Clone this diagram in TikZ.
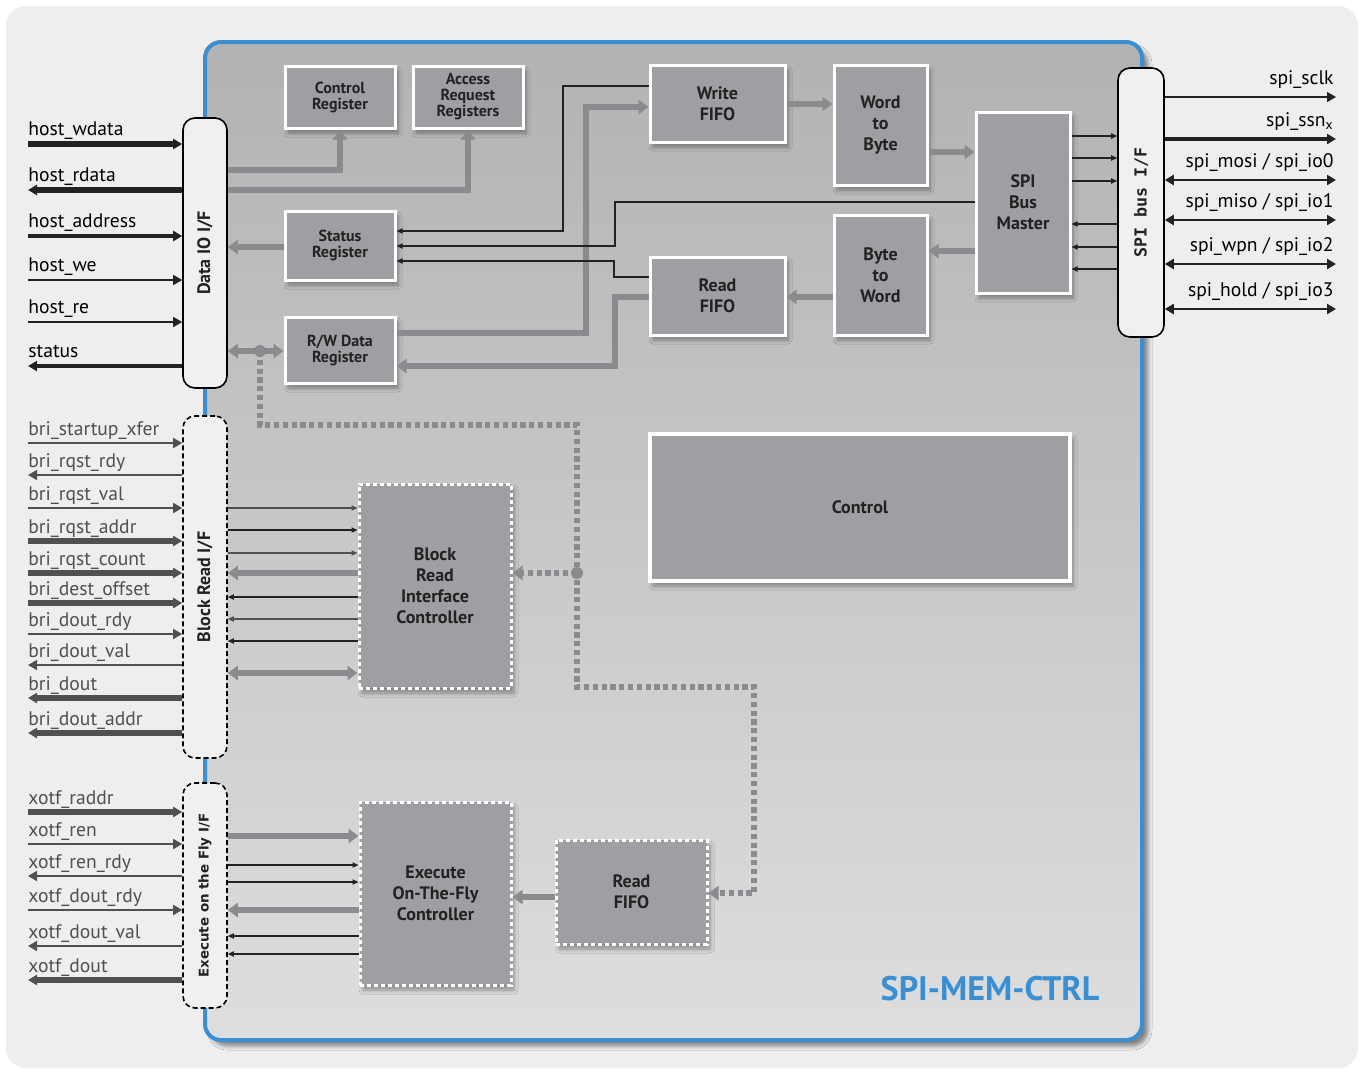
\documentclass[tikz,border=0pt]{standalone}
\usepackage{fontspec}
\setmainfont{PT Sans}
\newfontfamily\ifmono{DejaVu Sans Mono}
\newfontfamily\ifwide{DejaVu Sans}
\usetikzlibrary{positioning,arrows.meta,shadows.blur}
\definecolor{spiblue}{HTML}{3A8FD3}
\definecolor{blockgray}{HTML}{9E9FA3}
\definecolor{busgray}{HTML}{8A8B8E}
\definecolor{siggray}{HTML}{505050}
\definecolor{pagegray}{HTML}{EEEEEE}
\definecolor{iffill}{HTML}{F0F0F0}
\definecolor{txtdark}{HTML}{222222}
\begin{document}
\begin{tikzpicture}[x=0.5pt,y=-0.5pt]
\tikzstyle{block} = [draw=white, line width=1.5pt, fill=blockgray, inner sep=0pt, align=center, text=txtdark, font=\bfseries\fontsize{9}{10.5}\selectfont, blur shadow={shadow xshift=1.5pt, shadow yshift=-2.5pt, shadow blur steps=6, shadow opacity=35}]
\tikzstyle{regblock} = [block, font=\bfseries\fontsize{8}{8}\selectfont]
\tikzstyle{dotblock} = [block, dash pattern=on 2pt off 1.5pt]
\tikzstyle{ioif} = [draw=black, line width=0.8pt, fill=iffill, rounded corners=6pt, inner sep=0pt, minimum width=22pt]
\tikzstyle{dashif} = [ioif, dash pattern=on 2.5pt off 1.5pt]
\tikzstyle{iftext} = [rotate=90, inner sep=0pt, text=txtdark, font=\bfseries\fontsize{9}{9}\selectfont]
\tikzstyle{siglabel} = [inner sep=0pt, text depth=0pt, text=black, font=\fontsize{9.8}{10}\selectfont]
\tikzstyle{graylabel} = [siglabel, text=siggray]
\tikzstyle{sig} = [draw=txtdark, >={Triangle[length=4.5pt,width=5pt]}]
\tikzstyle{graysig} = [sig, draw=siggray]
\tikzstyle{graybus} = [draw=busgray, line width=3pt, >={Triangle[length=5pt,width=7pt]}]
\tikzstyle{thinarrow} = [draw=txtdark, line width=0.6pt, ->, >={Triangle[length=3pt,width=2.6pt]}]
\tikzstyle{dotbus} = [draw=busgray, line width=2.6pt, dash pattern=on 2.6pt off 1.8pt, >={Triangle[length=5pt,width=7pt]}]

% page and core
\useasboundingbox (0,0) rectangle (1364,1072);
\fill[white] (0,0) rectangle (1364,1072);
\fill[pagegray, rounded corners=10pt] (6,6) rectangle (1358,1068);
\node (core)[draw=spiblue, line width=2pt, rounded corners=8pt, minimum width=468.5pt, minimum height=499pt, top color=black!30!white, bottom color=black!13!white, blur shadow={shadow xshift=3pt, shadow yshift=-3pt, shadow opacity=45}] at (673.5,541) {};
\node (title)[text=spiblue, font=\bfseries\fontsize{17}{17}\selectfont] at (990,989) {SPI-MEM-CTRL};

% interfaces
\node (dataio)[ioif, minimum height=135pt] at (205,253) {};
\node (dataiotxt)[iftext] at (dataio) {Data IO I/F};
\node (brif)[dashif, minimum height=171pt] at (205,587) {};
\node (briftxt)[iftext] at (brif) {Block Read I/F};
\node (xotfif)[dashif, minimum height=112.5pt] at (205,895.5) {};
\node (xotfiftxt)[iftext, font=\ifwide\bfseries\fontsize{6.7}{6.7}\selectfont] at (xotfif) {Execute on the Fly I/F};
\node (spiif)[ioif, minimum width=23pt, minimum height=134.5pt] at (1141,202.5) {};
\node (spiiftxt)[iftext, font=\ifmono\bfseries\fontsize{8.3}{8.3}\selectfont] at (spiif) {SPI bus I/F};

% blocks
\node (ctrlreg)[regblock, minimum width=55pt, minimum height=31pt] at (340,97) {Control\\Register};
\node (accreg)[regblock, minimum width=55pt, minimum height=31pt, right of=ctrlreg, node distance=64pt] {Access\\Request\\Registers};
\node (statreg)[regblock, minimum width=55pt, minimum height=34.5pt] at (340,245.5) {Status\\Register};
\node (rwreg)[regblock, minimum width=55pt, minimum height=33pt] at (340,350) {R/W Data\\Register};
\node (wfifo)[block, minimum width=67.5pt, minimum height=38.5pt] at (717.5,103.5) {Write\\FIFO};
\node (rfifo)[block, minimum width=67.5pt, minimum height=39pt] at (717.5,296) {Read\\FIFO};
\node (w2b)[block, minimum width=46.5pt, minimum height=60pt] at (880.5,125) {Word\\to\\Byte};
\node (b2w)[block, minimum width=46.5pt, minimum height=60pt, below of=w2b, node distance=75pt] {Byte\\to\\Word};
\node (sbm)[block, minimum width=47pt, minimum height=90.5pt] at (1023,202.5) {SPI\\Bus\\Master};
\node (control)[block, line width=2pt, minimum width=210pt, minimum height=73.5pt] at (860,507.5) {Control};
\node (bric)[dotblock, minimum width=76pt, minimum height=102pt] at (435,586) {Block\\Read\\Interface\\Controller};
\node (eotf)[dotblock, minimum width=75.5pt, minimum height=91.5pt] at (435.5,893.5) {Execute\\On-The-Fly\\Controller};
\node (xfifo)[dotblock, minimum width=75.5pt, minimum height=52pt] at (631.5,892) {Read\\FIFO};

% data IO internals
\draw[graybus,->] (dataio.east |- 0,170) -| (ctrlreg.south);
\draw[graybus,->] (dataio.east |- 0,190) -| (accreg.south);
\draw[graybus,->] (statreg.west |- 0,247) -- (dataio.east |- 0,247);
\draw[graybus,<->] (rwreg.west |- 0,351) -- (dataio.east |- 0,351);
\draw[graybus,->] (rwreg.east |- 0,333) -- (586,333) |- (wfifo.west |- 0,107);
\draw[graybus,->] (rfifo.west |- 0,297) -- (615,297) |- (rwreg.east |- 0,366);
\draw[thinarrow] (wfifo.west |- 0,86) -- (563,86) |- (statreg.east |- 0,231);
\draw[thinarrow] (sbm.west |- 0,202) -- (615,202) |- (statreg.east |- 0,246);
\draw[thinarrow] (rfifo.west |- 0,277) -- (614,277) |- (statreg.east |- 0,261);

% fifo chain
\draw[graybus,->] (wfifo.east |- 0,104) -- (w2b.west |- 0,104);
\draw[graybus,->] (w2b.east |- 0,152) -- (sbm.west |- 0,152);
\draw[graybus,->] (sbm.west |- 0,251) -- (b2w.east |- 0,251);
\draw[graybus,->] (b2w.west |- 0,297) -- (rfifo.east |- 0,297);

% bus master to SPI I/F
\draw[thinarrow] (sbm.east |- 0,136) -- (spiif.west |- 0,136);
\draw[thinarrow] (sbm.east |- 0,158) -- (spiif.west |- 0,158);
\draw[thinarrow] (sbm.east |- 0,181) -- (spiif.west |- 0,181);
\draw[thinarrow] (spiif.west |- 0,224) -- (sbm.east |- 0,224);
\draw[thinarrow] (spiif.west |- 0,247) -- (sbm.east |- 0,247);
\draw[thinarrow] (spiif.west |- 0,269) -- (sbm.east |- 0,269);

% block read internals
\draw[thinarrow, draw=siggray] (brif.east |- 0,508) -- (bric.west |- 0,508);
\draw[thinarrow] (brif.east |- 0,530) -- (bric.west |- 0,530);
\draw[thinarrow, draw=siggray] (brif.east |- 0,553) -- (bric.west |- 0,553);
\draw[graybus,->] (bric.west |- 0,573) -- (brif.east |- 0,573);
\draw[thinarrow] (bric.west |- 0,597) -- (brif.east |- 0,597);
\draw[thinarrow, draw=siggray] (bric.west |- 0,619) -- (brif.east |- 0,619);
\draw[thinarrow] (bric.west |- 0,641) -- (brif.east |- 0,641);
\draw[graybus,<->] (brif.east |- 0,673) -- (bric.west |- 0,673);

% execute on the fly internals
\draw[graybus,->] (xotfif.east |- 0,836) -- (eotf.west |- 0,836);
\draw[thinarrow] (xotfif.east |- 0,865) -- (eotf.west |- 0,865);
\draw[thinarrow] (xotfif.east |- 0,882) -- (eotf.west |- 0,882);
\draw[graybus,->] (eotf.west |- 0,910) -- (xotfif.east |- 0,910);
\draw[thinarrow] (eotf.west |- 0,936) -- (xotfif.east |- 0,936);
\draw[thinarrow] (eotf.west |- 0,954) -- (xotfif.east |- 0,954);
\draw[graybus,->] (xfifo.west |- 0,897) -- (eotf.east |- 0,897);

% read path (dotted)
\coordinate (rwtap) at (260,351);
\coordinate (dotsplit) at (577,573);
\draw[dotbus,->] (rwtap) -- (260,425) -| (577,687) -| (754,893) -- (xfifo.east |- 0,893);
\draw[dotbus,->] (dotsplit) -- (bric.east |- dotsplit);
\fill[busgray] (rwtap) circle (3pt);
\fill[busgray] (dotsplit) circle (3pt);

% host side
\coordinate (hwdata) at (28,144);
\coordinate (hrdata) at (28,190);
\coordinate (haddr) at (28,236);
\coordinate (hwe) at (28,280);
\coordinate (hre) at (28,322);
\coordinate (hstat) at (28,366);
\draw[sig, line width=3pt, ->] (hwdata) -- (hwdata -| dataio.west);
\draw[sig, line width=3pt, <-] (hrdata) -- (hrdata -| dataio.west);
\draw[sig, line width=2pt, ->] (haddr) -- (haddr -| dataio.west);
\draw[sig, line width=0.7pt, ->] (hwe) -- (hwe -| dataio.west);
\draw[sig, line width=0.7pt, ->] (hre) -- (hre -| dataio.west);
\draw[sig, line width=1.6pt, <-] (hstat) -- (hstat -| dataio.west);
\node (hwdatalbl)[siglabel, above right=4pt and 0pt of hwdata] {host\_wdata};
\node (hrdatalbl)[siglabel, above right=4pt and 0pt of hrdata] {host\_rdata};
\node (haddrlbl)[siglabel, above right=4pt and 0pt of haddr] {host\_address};
\node (hwelbl)[siglabel, above right=4pt and 0pt of hwe] {host\_we};
\node (hrelbl)[siglabel, above right=4pt and 0pt of hre] {host\_re};
\node (hstatlbl)[siglabel, above right=4pt and 0pt of hstat] {status};

% block read side
\coordinate (bstart) at (28,443);
\coordinate (brrdy) at (28,475);
\coordinate (brval) at (28,508);
\coordinate (braddr) at (28,541);
\coordinate (brcount) at (28,573);
\coordinate (boffset) at (28,603);
\coordinate (bdrdy) at (28,634);
\coordinate (bdval) at (28,665);
\coordinate (bdout) at (28,698);
\coordinate (bdaddr) at (28,733);
\draw[graysig, line width=0.8pt, ->] (bstart) -- (bstart -| brif.west);
\draw[graysig, line width=0.8pt, <-] (brrdy) -- (brrdy -| brif.west);
\draw[graysig, line width=0.8pt, ->] (brval) -- (brval -| brif.west);
\draw[graysig, line width=3pt, ->] (braddr) -- (braddr -| brif.west);
\draw[graysig, line width=3pt, ->] (brcount) -- (brcount -| brif.west);
\draw[graysig, line width=3pt, ->] (boffset) -- (boffset -| brif.west);
\draw[graysig, line width=0.8pt, ->] (bdrdy) -- (bdrdy -| brif.west);
\draw[graysig, line width=0.8pt, <-] (bdval) -- (bdval -| brif.west);
\draw[graysig, line width=3pt, <-] (bdout) -- (bdout -| brif.west);
\draw[graysig, line width=3pt, <-] (bdaddr) -- (bdaddr -| brif.west);
\node (bstartlbl)[graylabel, above right=3.5pt and 0pt of bstart] {bri\_startup\_xfer};
\node (brrdylbl)[graylabel, above right=3.5pt and 0pt of brrdy] {bri\_rqst\_rdy};
\node (brvallbl)[graylabel, above right=3.5pt and 0pt of brval] {bri\_rqst\_val};
\node (braddrlbl)[graylabel, above right=3.5pt and 0pt of braddr] {bri\_rqst\_addr};
\node (brcountlbl)[graylabel, above right=3.5pt and 0pt of brcount] {bri\_rqst\_count};
\node (boffsetlbl)[graylabel, above right=3.5pt and 0pt of boffset] {bri\_dest\_offset};
\node (bdrdylbl)[graylabel, above right=3.5pt and 0pt of bdrdy] {bri\_dout\_rdy};
\node (bdvallbl)[graylabel, above right=3.5pt and 0pt of bdval] {bri\_dout\_val};
\node (bdoutlbl)[graylabel, above right=3.5pt and 0pt of bdout] {bri\_dout};
\node (bdaddrlbl)[graylabel, above right=3.5pt and 0pt of bdaddr] {bri\_dout\_addr};

% execute on the fly side
\coordinate (xraddr) at (28,812);
\coordinate (xren) at (28,844);
\coordinate (xrenrdy) at (28,876);
\coordinate (xdrdy) at (28,910);
\coordinate (xdval) at (28,946);
\coordinate (xdout) at (28,980);
\draw[graysig, line width=3pt, ->] (xraddr) -- (xraddr -| xotfif.west);
\draw[graysig, line width=0.8pt, ->] (xren) -- (xren -| xotfif.west);
\draw[graysig, line width=0.8pt, <-] (xrenrdy) -- (xrenrdy -| xotfif.west);
\draw[graysig, line width=0.8pt, ->] (xdrdy) -- (xdrdy -| xotfif.west);
\draw[graysig, line width=0.8pt, <-] (xdval) -- (xdval -| xotfif.west);
\draw[graysig, line width=3pt, <-] (xdout) -- (xdout -| xotfif.west);
\node (xraddrlbl)[graylabel, above right=3.5pt and 0pt of xraddr] {xotf\_raddr};
\node (xrenlbl)[graylabel, above right=3.5pt and 0pt of xren] {xotf\_ren};
\node (xrenrdylbl)[graylabel, above right=3.5pt and 0pt of xrenrdy] {xotf\_ren\_rdy};
\node (xdrdylbl)[graylabel, above right=3.5pt and 0pt of xdrdy] {xotf\_dout\_rdy};
\node (xdvallbl)[graylabel, above right=3.5pt and 0pt of xdval] {xotf\_dout\_val};
\node (xdoutlbl)[graylabel, above right=3.5pt and 0pt of xdout] {xotf\_dout};

% SPI side
\coordinate (sclk) at (1336,97);
\coordinate (ssn) at (1336,139);
\coordinate (mosi) at (1336,180);
\coordinate (miso) at (1336,220);
\coordinate (wpn) at (1336,264);
\coordinate (hold) at (1336,309);
\draw[sig, line width=0.7pt, ->] (sclk -| spiif.east) -- (sclk);
\draw[sig, line width=1.6pt, ->] (ssn -| spiif.east) -- (ssn);
\draw[sig, line width=1.2pt, <->] (mosi -| spiif.east) -- (mosi);
\draw[sig, line width=1.2pt, <->] (miso -| spiif.east) -- (miso);
\draw[sig, line width=1.2pt, <->] (wpn -| spiif.east) -- (wpn);
\draw[sig, line width=1.2pt, <->] (hold -| spiif.east) -- (hold);
\node (sclklbl)[siglabel, above left=6pt and 1pt of sclk] {spi\_sclk};
\node (ssnlbl)[siglabel, above left=6pt and 1pt of ssn] {spi\_ssn\textsubscript{x}};
\node (mosilbl)[siglabel, above left=6pt and 1pt of mosi] {spi\_mosi / spi\_io0};
\node (misolbl)[siglabel, above left=6pt and 1pt of miso] {spi\_miso / spi\_io1};
\node (wpnlbl)[siglabel, above left=6pt and 1pt of wpn] {spi\_wpn / spi\_io2};
\node (holdlbl)[siglabel, above left=6pt and 1pt of hold] {spi\_hold / spi\_io3};
\end{tikzpicture}
\end{document}
